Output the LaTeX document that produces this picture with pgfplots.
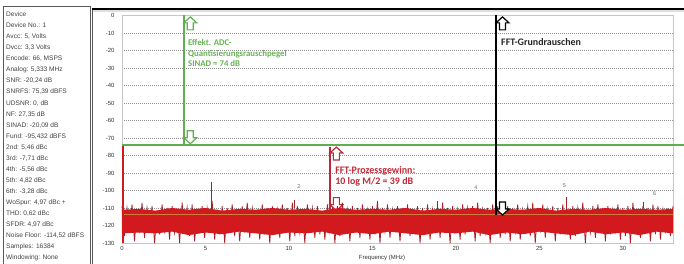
\documentclass[border=0pt]{standalone}
\usepackage{pgfplots}
\usepackage{pgfplotstable}
\pgfplotsset{compat=1.18}
\usepackage{fontspec}
\setmainfont{Liberation Sans}
\newfontfamily\anno{Carlito}
\definecolor{agreen}{RGB}{95,175,80}
\definecolor{tgreen}{RGB}{100,180,80}
\definecolor{nred}{RGB}{210,25,30}
\definecolor{dred}{RGB}{170,30,40}
\definecolor{tred}{RGB}{190,40,55}
\definecolor{nfloor}{RGB}{205,125,60}
\newcommand{\uparr}[3]{\draw[#1, line width=1.2bp, fill=white, shift={(axis cs:#2,#3)}] (6.5bp,0bp) -- (13bp,-6bp) -- (9.5bp,-6bp) -- (9.5bp,-13bp) -- (3.5bp,-13bp) -- (3.5bp,-6bp) -- (0bp,-6bp) -- cycle;}
\newcommand{\downarr}[3]{\draw[#1, line width=1.2bp, fill=white, shift={(axis cs:#2,#3)}] (6.5bp,0bp) -- (13bp,6bp) -- (9.5bp,6bp) -- (9.5bp,13bp) -- (3.5bp,13bp) -- (3.5bp,6bp) -- (0bp,6bp) -- cycle;}
\pgfplotstableread{
y
-109
-126
-110
-122
-108
-129
-111
-124
-107
-127
-110
-121
-109
-130
-112
-125
-108
-123
-110
-128
-109
-124
-111
-130
-107
-122
-110
-126
-108
-129
-112
-123
-109
-127
-110
-121
-106
-128
-111
-125
-109
-130
-110
-122
-108
-126
-111
-129
-109
-124
-107
-127
-110
-121
-112
-128
-108
-125
-110
-130
-109
-123
-111
-127
-108
-122
-110
-129
-107
-126
-109
-124
-111
-130
-108
-121
-110
-127
-109
-125
-112
-128
-108
-123
-110
-130
-109
-126
-107
-122
-111
-129
-109
-124
-110
-127
-108
-121
-111
-128
-109
-125
-106
-130
-110
-123
-108
-127
-111
-122
-109
-129
-110
-124
-108
-126
-112
-121
-109
-130
-110
-125
-108
-128
-111
-122
-109
-127
-107
-124
-110
-130
-109
-123
-111
-128
-108
-125
-110
-121
-109
-129
-107
-126
-111
-124
-110
-130
-108
-122
-109
-127
-112
-125
-109
-129
-110
-123
-108
-128
-111
-121
-109
-126
-107
-130
-110
-124
-108
-127
-111
-122
-109
-129
-110
-125
-108
-123
-112
-128
-109
-126
-110
-121
-107
-130
-111
-124
-109
-127
-108
-122
-110
-129
-109
-125
-111
-123
-108
-128
-110
-126
-109
-130
-107
-124
-111
-127
-109
-122
-110
-129
-108
-125
-109
-128
-111
-123
-110
-126
-109
}\noisetrace
\begin{document}
\begin{tikzpicture}
\useasboundingbox (-122bp,-21bp) rectangle (562bp,243bp);
% left info panel
\draw[gray!70!black, line width=0.8bp] (-119bp,-25bp) -- (-119bp,237bp) -- (-32bp,237bp) -- (-32bp,-25bp);
\draw[gray!70!black, line width=0.8bp] (-30bp,-25bp) -- (-30bp,234bp);
\draw[black, line width=1.5bp] (-30bp,234bp) -- (565bp,234bp);
\draw[gray!25, line width=2bp] (-29bp,232bp) -- (565bp,232bp);
\node[anchor=north west, inner sep=0pt, align=left, font=\fontsize{6.6}{11.1}\selectfont, text=black!75] at (-116bp,231.4bp) {Device\\Device No.: 1\\Avcc: 5, Volts\\Dvcc: 3,3 Volts\\Encode: 66, MSPS\\Analog: 5,333 MHz\\SNR: -20,24 dB\\SNRFS: 75,39 dBFS\\UDSNR: 0, dB\\NF: 27,35 dB\\SINAD: -20,09 dB\\Fund: -95,432 dBFS\\2nd: 5,46 dBc\\3rd: -7,71 dBc\\4th: -5,56 dBc\\5th: 4,82 dBc\\6th: -3,28 dBc\\WoSpur: 4,97 dBc +\\THD: 0,62 dBc\\SFDR: 4,97 dBc\\Noise Floor: -114,52 dBFS\\Samples: 16384\\Windowing: None};
\begin{axis}[
  scale only axis, width=551bp, height=227.5bp,
  xmin=0, xmax=33, ymin=-130, ymax=0,
  xtick={0,5,...,30}, ytick={-130,-120,...,0},
  major tick length=0pt,
  ymajorgrids, grid style={gray!85, line width=0.5bp, dash pattern=on 0.7bp off 1.3bp},
  axis line style={gray!45, line width=0.6bp},
  tick label style={font=\fontsize{6}{7}\selectfont, text=black!80},
  yticklabel style={xshift=-4bp},
  /pgf/number format/assume math mode=true,
  xlabel={Frequency (MHz)},
  xlabel style={font=\fontsize{6}{7}\selectfont, text=black!80, at={(axis description cs:0.472,0)}, anchor=north, inner sep=0pt, yshift=-11.5bp},
  clip=false,
]
% red bottom arrow (partly hidden by noise)
\downarr{tred}{12.45}{-111.5}
% noise spikes trace
\addplot[dred, line width=0.8bp, restrict x to domain=0:33] table[x expr=\coordindex*0.15, y=y] {\noisetrace};
% dense noise core
\addplot[fill=nred, draw=none] coordinates {(0,-111)(1,-110.5)(2,-111.5)(3,-110)(4,-111)(5,-110)(6,-111.5)(7,-110.5)(8,-111)(9,-110)(10,-111)(11,-110.5)(12,-111.5)(13,-110)(14,-111)(15,-110.5)(16,-111)(17,-110)(18,-111.5)(19,-110.5)(20,-111)(21,-110)(22,-111)(23,-110.5)(24,-111)(25,-110)(26,-111.5)(27,-110.5)(28,-111)(29,-110)(30,-111)(31,-110.5)(32,-111)(33,-110.5)
(33,-124.5)(32,-123.5)(31,-125.5)(30,-124)(29,-125)(28,-123.5)(27,-125.5)(26,-124.5)(25,-123.5)(24,-125)(23,-124)(22,-125.5)(21,-123.5)(20,-124.5)(19,-124)(18,-125.5)(17,-124.5)(16,-123.5)(15,-125)(14,-124)(13,-125.5)(12,-123.5)(11,-124.5)(10,-124)(9,-125.5)(8,-124.5)(7,-123.5)(6,-125)(5,-124)(4,-125.5)(3,-123.5)(2,-124.5)(1,-124)(0,-124.5)} -- cycle;
% noise floor
\addplot[nfloor, line width=0.9bp] coordinates {(0,-113.5)(33,-113.5)};
% spikes: DC, fundamental, harmonics
\addplot[nred, line width=1.2bp] coordinates {(0.06,-130)(0.06,-74)};
\addplot[dred, line width=0.8bp] coordinates {(5.33,-110)(5.33,-95.4)};
\addplot[dred, line width=0.8bp] coordinates {(26.6,-111)(26.6,-103.5)};
\addplot[dred, line width=0.6bp] coordinates {(10.3,-110)(10.3,-105.5)};
\addplot[dred, line width=0.6bp] coordinates {(18.9,-110)(18.9,-106)};
\addplot[dred, line width=0.6bp] coordinates {(31.2,-110)(31.2,-106.5)};
% harmonic numbers
\begin{scope}[every node/.style={font=\fontsize{5.5}{6}\selectfont, text=black!60, inner sep=0pt}]
\node at (axis cs:10.6,-98) {2};
\node at (axis cs:16.0,-99.5) {3};
\node at (axis cs:21.2,-98.5) {4};
\node at (axis cs:26.5,-97.5) {5};
\node at (axis cs:31.9,-102) {6};
\end{scope}
% green: ADC quantisation noise level
\draw[draw=agreen, line width=1.5bp] (axis cs:3.7,0) -- (axis cs:3.7,-74);
\draw[draw=agreen, line width=1.4bp] (axis cs:0,-74) -- ([xshift=11bp]axis cs:33,-74);
\uparr{agreen}{3.7}{-0.8}
\downarr{agreen}{3.7}{-73.3}
% black: FFT noise floor
\draw[black, line width=1.4bp] (axis cs:22.4,0) -- (axis cs:22.4,-114);
\uparr{black}{22.4}{-0.8}
\downarr{black}{22.4}{-114}
% red: FFT process gain
\draw[tred, line width=1.3bp] (axis cs:12.45,-75) -- (axis cs:12.45,-111);
\uparr{tred}{12.45}{-75.2}
% texts
\node[anchor=north west, inner sep=0pt, align=left, font=\anno\bfseries\fontsize{8.8}{10.5}\selectfont, text=tgreen] at (axis cs:3.95,-13.6) {Effekt. ADC-\\Quantisierungsrauschpegel\\SINAD = 74 dB};
\node[anchor=north west, inner sep=0pt, align=left, font=\anno\bfseries\fontsize{10}{11}\selectfont, text=tred] at (axis cs:12.76,-86) {FFT-Prozessgewinn:\\10 log M/2 = 39 dB};
\node[anchor=north west, inner sep=0pt, align=left, font=\anno\bfseries\fontsize{10}{11}\selectfont, text=black!85] at (axis cs:22.7,-12.8) {FFT-Grundrauschen};
\end{axis}
\end{tikzpicture}
\end{document}
